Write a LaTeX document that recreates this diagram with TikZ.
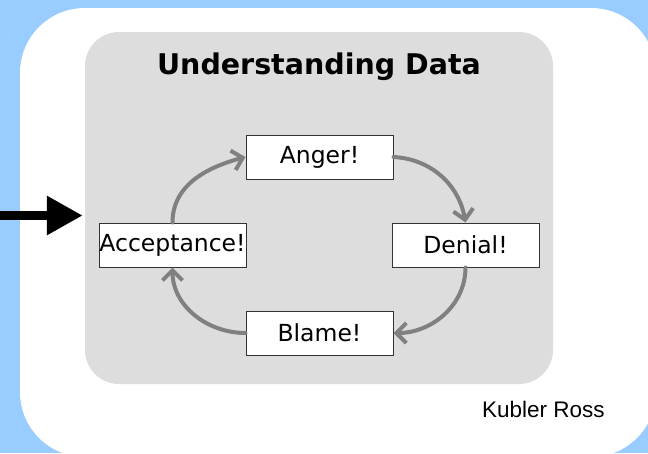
\documentclass[tikz,border=0pt]{standalone}
\usepackage{fontspec}
\newfontfamily\boxfont{DejaVu Sans}
\newfontfamily\notefont{Liberation Sans}
\usetikzlibrary{arrows.meta}
\definecolor{skyblue}{RGB}{153,204,255}
\definecolor{panelgray}{RGB}{221,221,221}
\definecolor{cyclegray}{RGB}{128,128,128}

\begin{document}
\begin{tikzpicture}[x=1pt,y=1pt,
  stage/.style={draw=black!80, line width=1pt, fill=white,
    minimum width=147pt, minimum height=44pt, inner sep=0pt,
    font=\boxfont\fontsize{23.5}{28}\selectfont},
  cycle/.style={draw=cyclegray, line width=4pt, line cap=round,
    -{Straight Barb[length=10pt,width=20pt]}},
  feedarrow/.style={line width=9.5pt, -{Triangle[length=36pt,width=37pt]}},
]
\useasboundingbox (0,0) rectangle (648,-453);
\clip (0,0) rectangle (648,-453);

% page background and white card
\fill[skyblue] (0,0) rectangle (648,-453);
\fill[white, rounded corners=65pt] (20,-8) rectangle (656,-457);

% grey panel with its title
\node[fill=panelgray, rounded corners=34pt, minimum width=468pt,
      minimum height=352pt, inner sep=0pt] (panel) at (319,-208) {};
\node[anchor=base, inner sep=0pt,
      font=\boxfont\bfseries\fontsize{28.5}{34}\selectfont] (title)
      at (319,-74) {Understanding Data};

% the four stages
\node[stage] (anger)  at (319.5,-157) {Anger!};
\node[stage] (denial) at (465.5,-245) {Denial!};
\node[stage] (blame)  at (319.5,-333) {Blame!};
\node[stage] (accept) at (172.5,-245) {Acceptance!};

% cycle connectors
\draw[cycle] (accept.north) to[out=90,in=195] (anger.west);
\draw[cycle] (anger.east) to[out=-3,in=100] (denial.north);
\draw[cycle] (denial.south) to[out=-90,in=0] (blame.east);
\draw[cycle] (blame.west) to[out=180,in=-90] (accept.south);

% incoming arrow
\coordinate (feed) at (0,-215.5);
\draw[feedarrow, shorten >=2pt] (feed) -- (panel.west |- feed);

% credit
\node[anchor=base west, inner sep=0pt,
      font=\notefont\fontsize{22.5}{27}\selectfont] (credit)
      at (482,-417) {Kubler Ross};
\end{tikzpicture}
\end{document}
